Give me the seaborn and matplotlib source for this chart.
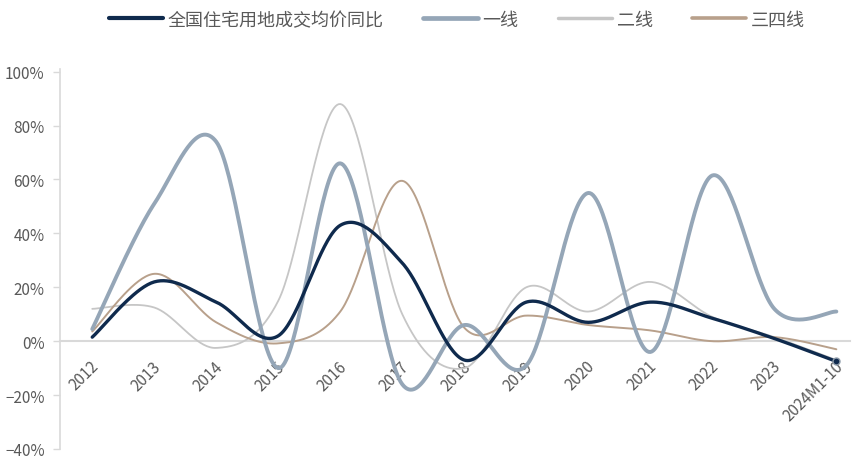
import numpy as np
import pandas as pd
import matplotlib
matplotlib.use("Agg")
import matplotlib.pyplot as plt
import matplotlib.transforms as mtransforms
from matplotlib.lines import Line2D
import seaborn as sns

# Year-on-year change of residential land transaction prices (%)
years = ["2012", "2013", "2014", "2015", "2016", "2017", "2018",
         "2019", "2020", "2021", "2022", "2023", "2024M1-10"]
national = [1.5, 22, 14.5, 2, 43, 29, -7, 14.5, 7, 14.5, 8.5, 1, -7.5]
tier1 = [4.5, 51, 74, -10, 66, -16, 6, -9, 55, -4, 61.5, 12, 11]
tier2 = [12, 12.5, -2.5, 15, 88, 10, -10, 20, 11, 22, 9, 1.5, -7]
tier34 = [3.6, 25, 7, -0.8, 11, 59.5, 5, 9.5, 6, 4, 0, 1.5, -3]

series_names = ["全国住宅用地成交均价同比", "一线", "二线", "三四线"]
series_values = [national, tier1, tier2, tier34]
colors = ["#0f2a4d", "#95a6b7", "#c6c6c6", "#b8a08b"]
widths = [2.4, 2.8, 1.3, 1.4]
zorders = [5, 4, 2, 3]

yticks = [-40, -20, 0, 20, 40, 60, 80, 100]


def smooth(xs, ys, steps=40):
    """Bezier smoothing through every point (Catmull-Rom style tangents)."""
    p = np.column_stack([xs, ys]).astype(float)
    ext = np.vstack([p[0], p, p[-1]])
    out = []
    t = np.linspace(0, 1, steps)[:, None]
    for i in range(len(p) - 1):
        p0, p1, p2, p3 = ext[i], ext[i + 1], ext[i + 2], ext[i + 3]
        c1 = p1 + (p2 - p0) / 6
        c2 = p2 - (p3 - p1) / 6
        seg = ((1 - t) ** 3) * p1 + 3 * ((1 - t) ** 2) * t * c1 \
            + 3 * (1 - t) * t ** 2 * c2 + t ** 3 * p2
        out.append(seg if i == 0 else seg[1:])
    return np.vstack(out)


sns.set_theme(style="white")
plt.rcParams["font.family"] = ["Noto Sans CJK SC", "DejaVu Sans"]
plt.rcParams["axes.unicode_minus"] = True

fig = plt.figure(figsize=(8.59, 4.60), dpi=100)
ax = fig.add_axes([60 / 859, 1 - 450 / 460, 790 / 859, (450 - 70) / 460])

x_idx = np.arange(len(years))
for name, vals, c, lw, z in zip(series_names, series_values, colors, widths, zorders):
    curve = smooth(x_idx, vals)
    df = pd.DataFrame({"x": curve[:, 0], "y": curve[:, 1]})
    sns.lineplot(data=df, x="x", y="y", ax=ax, color=c, linewidth=lw,
                 sort=False, estimator=None, zorder=z)

# end marker on the national series
ax.plot(x_idx[-1], national[-1], marker="o", markersize=5,
        markerfacecolor=colors[0], markeredgecolor="#8d9aa8",
        markeredgewidth=1, zorder=6)

# spines first: moving the bottom spine resets the x ticks
for side in ["top", "right"]:
    ax.spines[side].set_visible(False)
ax.spines["left"].set_color("#d9d9d9")
ax.spines["left"].set_linewidth(1.2)
ax.spines["bottom"].set_position(("data", 0))
ax.spines["bottom"].set_color("#d9d9d9")
ax.spines["bottom"].set_linewidth(1.5)
ax.spines["bottom"].set_zorder(1)

ax.set_xlim(-0.52, 12.22)
ax.set_ylim(-40, 101)
ax.set_xlabel("")
ax.set_ylabel("")

ax.set_yticks(yticks)
ax.set_yticklabels([f"{v}%".replace("-", "\u2212") for v in yticks])
ax.tick_params(axis="y", which="both", left=True, length=5, width=1,
               color="#d9d9d9", pad=6, labelsize=11, labelcolor="#595959")

ax.set_xticks(x_idx)
ax.set_xticklabels(years)
ax.tick_params(axis="x", length=0, pad=16, labelsize=11, labelcolor="#595959")
offset = mtransforms.ScaledTranslation(3 / 72, 0, fig.dpi_scale_trans)
for lab in ax.get_xticklabels():
    lab.set_rotation(45)
    lab.set_horizontalalignment("right")
    lab.set_verticalalignment("center")
    lab.set_rotation_mode("anchor")
    lab.set_transform(lab.get_transform() + offset)

handles = [Line2D([0], [0], color=c, linewidth=lw + 0.6 if i < 2 else lw + 1.2)
           for i, (c, lw) in enumerate(zip(colors, widths))]
fig.legend(handles, series_names, loc="center", ncol=4,
           bbox_to_anchor=(0.532, 0.955), frameon=False, fontsize=13,
           handlelength=3.0, handletextpad=0.25, columnspacing=2.2,
           labelcolor="#595959")

fig.savefig("out.png", dpi=100)
